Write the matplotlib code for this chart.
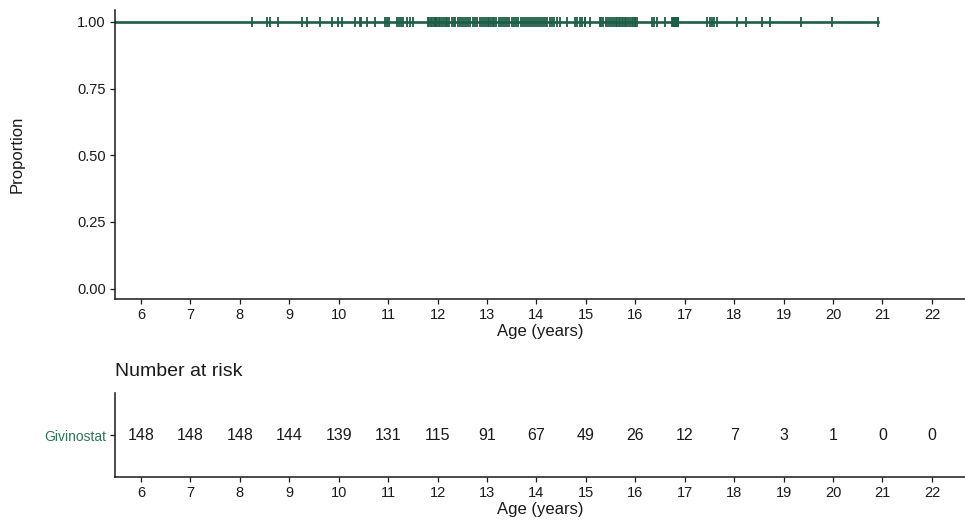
"""Kaplan-Meier style curve with a number-at-risk table underneath."""
import matplotlib
matplotlib.use("Agg")
import matplotlib.pyplot as plt
import numpy as np

plt.rcParams["font.family"] = ["Liberation Sans", "DejaVu Sans"]

GREEN = "#1E5E46"
LABEL_GREEN = "#2E7458"
INK = "#1A1A1A"

# survival step (no events, all censored)
surv_times = [5.47, 20.9]
surv_prop = [1.0, 1.0]

# censoring times (years)
censor_8 = [8.25, 8.54, 8.61, 8.78]
censor_9 = [9.25, 9.35, 9.62, 9.86, 9.98]
censor_10 = [10.07, 10.33, 10.43, 10.46, 10.57, 10.73, 10.94, 10.98]
censor_11 = [11.02, 11.18, 11.22, 11.26, 11.30, 11.38, 11.44, 11.50,
             11.80, 11.83, 11.86, 11.89, 11.92, 11.95, 11.97, 11.99]
censor_12 = [12.02, 12.05, 12.09, 12.13, 12.16, 12.20, 12.24, 12.29,
             12.33, 12.36, 12.41, 12.45, 12.49, 12.53, 12.58, 12.62,
             12.66, 12.71, 12.76, 12.80, 12.85, 12.89, 12.93, 12.97]
censor_13 = [13.01, 13.04, 13.08, 13.12, 13.15, 13.19, 13.24, 13.28,
             13.32, 13.37, 13.41, 13.45, 13.50, 13.55, 13.59, 13.63,
             13.68, 13.72, 13.76, 13.80, 13.85, 13.89, 13.94, 13.98]
censor_14 = [14.02, 14.06, 14.10, 14.13, 14.17, 14.21, 14.27, 14.31,
             14.36, 14.41, 14.47, 14.61, 14.78, 14.83, 14.88, 14.93,
             14.98, 14.99]
censor_15 = [15.08, 15.28, 15.31, 15.35, 15.40, 15.44, 15.49, 15.53,
             15.56, 15.60, 15.63, 15.66, 15.70, 15.73, 15.76, 15.79,
             15.82, 15.86, 15.89, 15.93, 15.96, 15.99, 15.995]
censor_16 = [16.03, 16.34, 16.38, 16.44, 16.60, 16.74, 16.76, 16.78,
             16.80, 16.82, 16.84, 16.85, 16.86, 16.87]
censor_17 = [17.45, 17.51, 17.56, 17.60, 17.65]
censor_18 = [18.05, 18.24, 18.56, 18.72]
censor_19 = [19.36, 19.98]
censor_20 = [20.9]

age_ticks = list(range(6, 23))
n_at_risk = [148, 148, 148, 144, 139, 131, 115, 91, 67, 49, 26, 12, 7, 3, 1, 0, 0]
group = "Givinostat"

censor_times = (censor_8 + censor_9 + censor_10 + censor_11 + censor_12 +
                censor_13 + censor_14 + censor_15 + censor_16 + censor_17 +
                censor_18 + censor_19 + censor_20)

XLIM = (5.47, 22.67)

fig = plt.figure(figsize=(9.65, 5.24), dpi=100)
ax = fig.add_axes([0.119, 0.429, 0.881, 0.552])
tab = fig.add_axes([0.119, 0.089, 0.881, 0.161])


def style(a):
    for s in ("top", "right"):
        a.spines[s].set_visible(False)
    for s in ("left", "bottom"):
        a.spines[s].set_color(INK)
        a.spines[s].set_linewidth(1.1)
    a.tick_params(colors=INK, labelsize=10.5, length=3.5, width=0.9, pad=3)
    a.set_xlim(*XLIM)
    a.set_xticks(age_ticks)
    a.set_xlabel("Age (years)", fontsize=12, color=INK, labelpad=1)


# survival curve
style(ax)
ax.step(surv_times, surv_prop, where="post", color=GREEN, linewidth=1.9)
ax.plot(censor_times, np.ones(len(censor_times)), linestyle="none",
        marker="|", markersize=7, markeredgewidth=1.3, color=GREEN)
ax.set_ylim(-0.04, 1.045)
ax.set_yticks([0, 0.25, 0.5, 0.75, 1.0])
ax.set_yticklabels(["0.00", "0.25", "0.50", "0.75", "1.00"])
ax.set_ylabel("Proportion", fontsize=12, color=INK, labelpad=38)

# number at risk table
style(tab)
tab.set_ylim(0, 1)
tab.set_yticks([0.5])
tab.set_yticklabels([group])
tab.get_yticklabels()[0].set_color(LABEL_GREEN)
tab.tick_params(axis="y", labelsize=10)
for x, n in zip(age_ticks, n_at_risk):
    tab.text(x, 0.5, str(n), ha="center", va="center", fontsize=11.5, color=INK)
tab.set_title("Number at risk", loc="left", fontsize=14, color=INK, pad=12,
              x=0.0)

fig.savefig("out.png", dpi=100, facecolor="white")
